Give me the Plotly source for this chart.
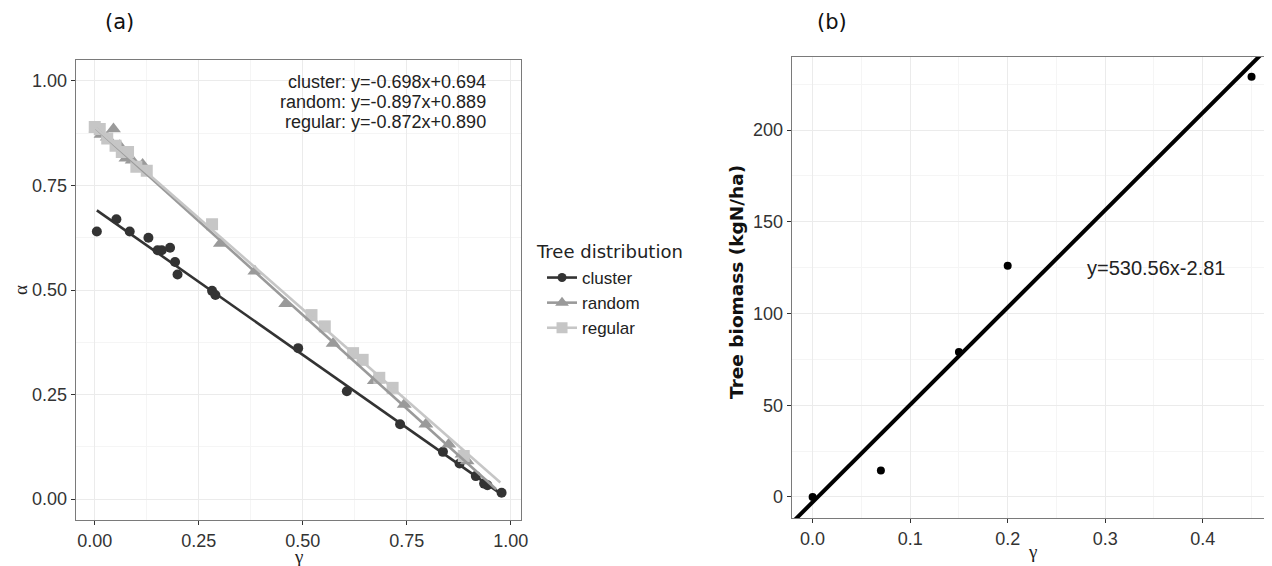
import plotly.graph_objects as go

# ---------------- data: panel (a) ----------------
cluster_x = [0.005, 0.052, 0.084, 0.129, 0.151, 0.161, 0.181, 0.193, 0.199, 0.282, 0.290,
             0.489, 0.606, 0.734, 0.837, 0.877, 0.916, 0.936, 0.944, 0.978]
cluster_y = [0.640, 0.669, 0.640, 0.625, 0.595, 0.595, 0.601, 0.567, 0.537, 0.498, 0.488,
             0.361, 0.258, 0.179, 0.113, 0.085, 0.055, 0.037, 0.033, 0.015]

random_x = [0.003, 0.015, 0.030, 0.045, 0.060, 0.075, 0.090, 0.115, 0.302, 0.385, 0.459,
            0.573, 0.672, 0.744, 0.796, 0.851, 0.883, 0.895]
random_y = [0.885, 0.872, 0.865, 0.885, 0.845, 0.815, 0.810, 0.800, 0.611, 0.545, 0.467,
            0.372, 0.283, 0.226, 0.179, 0.131, 0.107, 0.091]

regular_x = [0.000, 0.012, 0.030, 0.050, 0.065, 0.080, 0.100, 0.125, 0.282, 0.521, 0.553,
             0.621, 0.644, 0.684, 0.716, 0.887]
regular_y = [0.890, 0.885, 0.862, 0.845, 0.830, 0.830, 0.795, 0.785, 0.657, 0.440, 0.413,
             0.349, 0.333, 0.290, 0.266, 0.103]

groups = ["cluster", "random", "regular"]
slopes = [-0.698, -0.897, -0.872]
intercepts = [0.694, 0.889, 0.890]
fit_x_start = [0.005, 0.003, 0.000]
fit_x_end = [0.978, 0.965, 0.975]

# ---------------- data: panel (b) ----------------
gamma_b = [0.0, 0.07, 0.15, 0.20, 0.45]
biomass_b = [0.0, 14.5, 79.0, 126.0, 229.0]
slope_b = 530.56
intercept_b = -2.81
fit_b_x = [-0.05, 0.5]

# ---------------- styling ----------------
colors = ["#333333", "#9a9a9a", "#c6c6c6"]
symbols = ["circle", "triangle-up", "square"]
msizes = [10, 13, 12]
TICKFONT = dict(family="Liberation Sans, Arial, sans-serif", size=18, color="#333333")
GRID = "#ebebeb"
MINOR = "#f5f5f5"
FRAME = "#7a7a7a"

OFF = 8  # page body margin
W, H = 1272 - OFF, 566 - OFF


def px(x):
    return (x - OFF) / W


def py(y):
    return 1 - (y - OFF) / H


fig = go.Figure()

xs = [cluster_x, random_x, regular_x]
ys = [cluster_y, random_y, regular_y]
for i, g in enumerate(groups):
    fig.add_trace(go.Scatter(x=xs[i], y=ys[i], mode="markers", showlegend=False,
                             marker=dict(symbol=symbols[i], size=msizes[i], color=colors[i]),
                             xaxis="x", yaxis="y", hoverinfo="skip"))
for i, g in enumerate(groups):
    lx = [fit_x_start[i], fit_x_end[i]]
    ly = [slopes[i] * v + intercepts[i] for v in lx]
    fig.add_trace(go.Scatter(x=lx, y=ly, mode="lines", showlegend=False,
                             line=dict(color=colors[i], width=2.6),
                             xaxis="x", yaxis="y", hoverinfo="skip"))
# legend entries
for i, g in enumerate(groups):
    fig.add_trace(go.Scatter(x=[None], y=[None], mode="lines+markers", name=g,
                             marker=dict(symbol=symbols[i], size=msizes[i] - 1, color=colors[i]),
                             line=dict(color=colors[i], width=2.6),
                             xaxis="x", yaxis="y"))

# panel (b)
fig.add_trace(go.Scatter(x=fit_b_x, y=[slope_b * v + intercept_b for v in fit_b_x],
                         mode="lines", showlegend=False, line=dict(color="black", width=4),
                         xaxis="x2", yaxis="y2", hoverinfo="skip"))
fig.add_trace(go.Scatter(x=gamma_b, y=biomass_b, mode="markers", showlegend=False,
                         marker=dict(color="black", size=8),
                         xaxis="x2", yaxis="y2", hoverinfo="skip"))


def axis(domain, rng, dtick, minor_dtick, fmt, anchor, mirror=True):
    return dict(domain=domain, range=rng, dtick=dtick, tick0=0, tickformat=fmt,
                showgrid=True, gridcolor=GRID, gridwidth=1.1, zeroline=False,
                minor=dict(dtick=minor_dtick, tick0=0, showgrid=True, gridcolor=MINOR, gridwidth=0.7),
                showline=True, linecolor=FRAME, linewidth=1.2, mirror=mirror,
                ticks="outside", ticklen=4, tickcolor="#333333", tickwidth=1,
                tickfont=TICKFONT, anchor=anchor)


fig.update_layout(
    width=W, height=H, autosize=False,
    margin=dict(l=0, r=0, t=0, b=0),
    paper_bgcolor="white", plot_bgcolor="white",
    xaxis=axis([px(76), px(524)], [-0.046, 1.025], 0.25, 0.125, ".2f", "y"),
    yaxis=axis([py(520), py(60)], [-0.05, 1.05], 0.25, 0.125, ".2f", "x"),
    xaxis2=axis([px(796), 1.0], [-0.0215, 0.4638], 0.1, 0.05, ".1f", "y2"),
    yaxis2=axis([py(518), py(57)], [-11.45, 239.8], 50, 25, "d", "x2", mirror=False),
    legend=dict(x=px(545), y=py(260), xanchor="left", yanchor="top",
                font=dict(family="Liberation Sans, Arial, sans-serif", size=17, color="#222222"),
                bgcolor="rgba(0,0,0,0)", itemclick=False),
    showlegend=True,
)

ann = []
# legend title
ann.append(dict(text="Tree distribution", xref="paper", yref="paper", x=px(537), y=py(251),
                xanchor="left", yanchor="middle", showarrow=False,
                font=dict(family="DejaVu Sans", size=18, color="#222222")))

eq_font = dict(family="Liberation Sans, Arial, sans-serif", size=18, color="#222222")
eq_texts = [f"{g}: y={s:.3f}x+{c:.3f}" for g, s, c in zip(groups, slopes, intercepts)]
eq_ypix = [81.7, 101.7, 121.7]
for t, yp in zip(eq_texts, eq_ypix):
    ann.append(dict(text=t, xref="paper", yref="paper", x=px(491), y=py(yp),
                    xanchor="right", yanchor="middle", showarrow=False, font=eq_font))

ann.append(dict(text="y=530.56x-2.81", xref="x2", yref="y2", x=0.352, y=124.6,
                xanchor="center", yanchor="middle", showarrow=False,
                font=dict(family="Liberation Sans, Arial, sans-serif", size=20, color="#222222")))

# panel labels
for t, xp in [("(a)", 120), ("(b)", 837)]:
    ann.append(dict(text=t, xref="paper", yref="paper", x=px(xp), y=py(21.7),
                    xanchor="center", yanchor="middle", showarrow=False,
                    font=dict(family="DejaVu Sans", size=21, color="#111111")))

# axis titles
greek = dict(family="Liberation Serif, DejaVu Serif, serif", size=19, color="#222222")
ann.append(dict(text="γ", xref="paper", yref="paper", x=px(300), y=py(556.5),
                xanchor="center", yanchor="middle", showarrow=False, font=greek))
ann.append(dict(text="γ", xref="paper", yref="paper", x=px(1038.7), y=py(551),
                xanchor="center", yanchor="middle", showarrow=False, font=greek))
ann.append(dict(text="α", xref="paper", yref="paper", x=px(20), y=py(290),
                xanchor="center", yanchor="middle", showarrow=False, font=greek, textangle=-90))
ann.append(dict(text="<b>Tree biomass (kgN/ha)</b>", xref="paper", yref="paper", x=px(740),
                y=py(282), xanchor="center", yanchor="middle", showarrow=False,
                textangle=-90, font=dict(family="DejaVu Sans", size=18.5, color="#111111")))

fig.update_layout(annotations=ann)

fig.write_html("out.html")
